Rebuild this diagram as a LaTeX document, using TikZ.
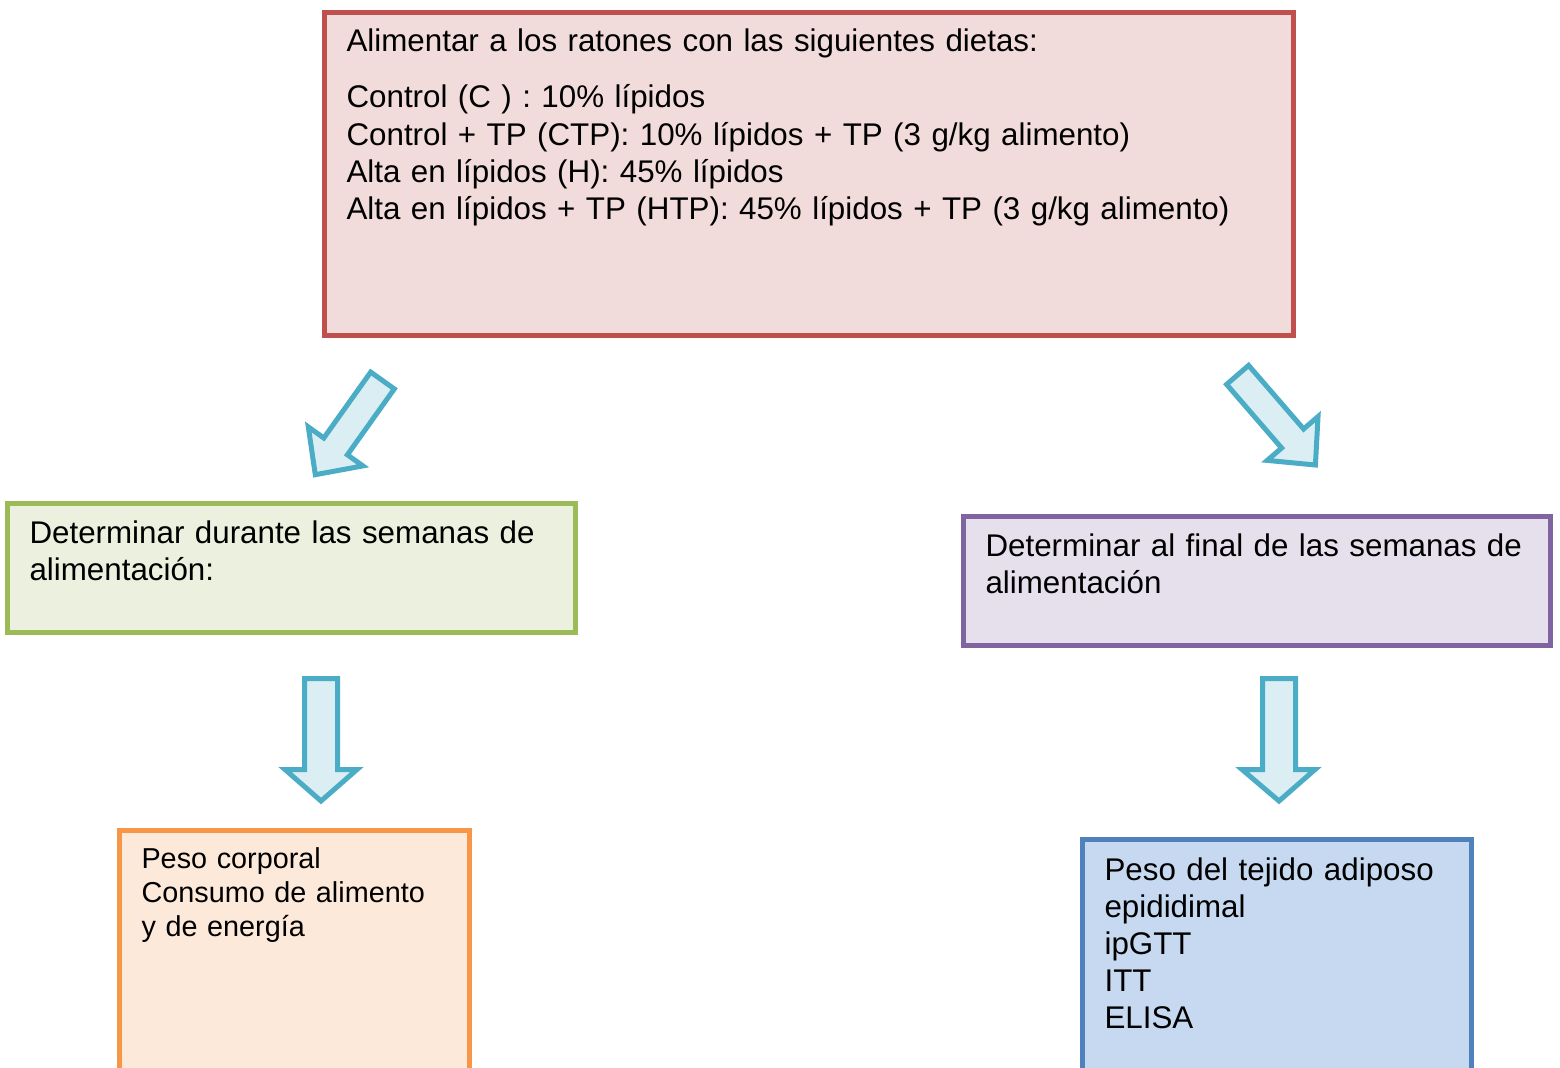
\documentclass[tikz,border=0pt]{standalone}
\usepackage{fontspec}
\setmainfont{Liberation Sans}
\usetikzlibrary{fit}
\tikzset{
	caja/.style={draw, line width=1.875pt, inner sep=0},
	texto/.style={anchor=base west, inner sep=0, text width=420pt, align=left, font=\fontsize{11.75}{13.9}\selectfont},
	flecha/.style={draw=fborde, fill=frelleno, line width=1.875pt, line join=miter},
}
\begin{document}
\begin{tikzpicture}[x=0.375pt, y=-0.375pt]
		\definecolor{rojo}{HTML}{C0504D}
		\definecolor{rosa}{HTML}{F2DCDB}
		\definecolor{verde}{HTML}{9BBB59}
		\definecolor{verdeclaro}{HTML}{EBF1DE}
		\definecolor{morado}{HTML}{8064A2}
		\definecolor{lila}{HTML}{E5E0EC}
		\definecolor{naranja}{HTML}{F79646}
		\definecolor{melocoton}{HTML}{FDE9D9}
		\definecolor{azul}{HTML}{4F81BD}
		\definecolor{celeste}{HTML}{C6D9F1}
		\definecolor{fborde}{HTML}{4BACC6}
		\definecolor{frelleno}{HTML}{DAEEF3}
		\clip (0,0) rectangle (1560,1068);
		\node[caja, draw=rojo, fill=rosa, fit={(324.5,12.5) (1293.5,335.5)}] (dietas) {};
		\node[caja, draw=verde, fill=verdeclaro, fit={(7.5,503.5) (575.5,632.5)}] (durante) {};
		\node[caja, draw=morado, fill=lila, fit={(963.5,516.5) (1550.5,645.5)}] (final) {};
		\node[caja, draw=naranja, fill=melocoton, fit={(119.5,830.5) (469.5,1090)}] (peso) {};
		\node[caja, draw=azul, fill=celeste, fit={(1082.5,839.5) (1471.5,1090)}] (tejido) {};
		\node[texto] (dietas-txt) at (346,52) {Alimentar a los ratones con las siguientes dietas:\\[7.1pt]
			Control (C ) : 10\% lípidos\\
			Control + TP (CTP): 10\% lípidos + TP (3 g/kg alimento)\\
			Alta en lípidos (H): 45\% lípidos\\
			Alta en lípidos + TP (HTP): 45\% lípidos + TP (3 g/kg alimento)};
		\node[texto] (durante-txt) at (29,543) {Determinar durante las semanas de\\alimentación:};
		\node[texto] (final-txt) at (985,556) {Determinar al final de las semanas de\\alimentación};
		\node[texto, font=\fontsize{10.8}{12.75}\selectfont] (peso-txt) at (141,868) {Peso corporal\\Consumo de alimento\\y de energía};
		\node[texto] (tejido-txt) at (1104,880) {Peso del tejido adiposo\\epididimal\\ipGTT\\ITT\\ELISA};
		\draw[flecha] (370.7,372.1) -- (394.3,388.9) -- (347.4,454.8) -- (362.9,465.9) -- (315.3,474.7) -- (308.3,426.9) -- (323.8,438.0) -- cycle;
		\draw[flecha] (1248.6,365.4) -- (1303.6,429.0) -- (1318.0,416.6) -- (1315.4,465.0) -- (1267.2,460.4) -- (1281.6,448.0) -- (1226.6,384.4) -- cycle;
		\draw[flecha] (304.5,678.5) -- (337.5,678.5) -- (337.5,769.5) -- (357,769.5) -- (321,801) -- (285,769.5) -- (304.5,769.5) -- cycle;
		\draw[flecha] (1262.5,678.5) -- (1295.5,678.5) -- (1295.5,769.5) -- (1315,769.5) -- (1279,801) -- (1242,769.5) -- (1262.5,769.5) -- cycle;
\end{tikzpicture}
\end{document}
